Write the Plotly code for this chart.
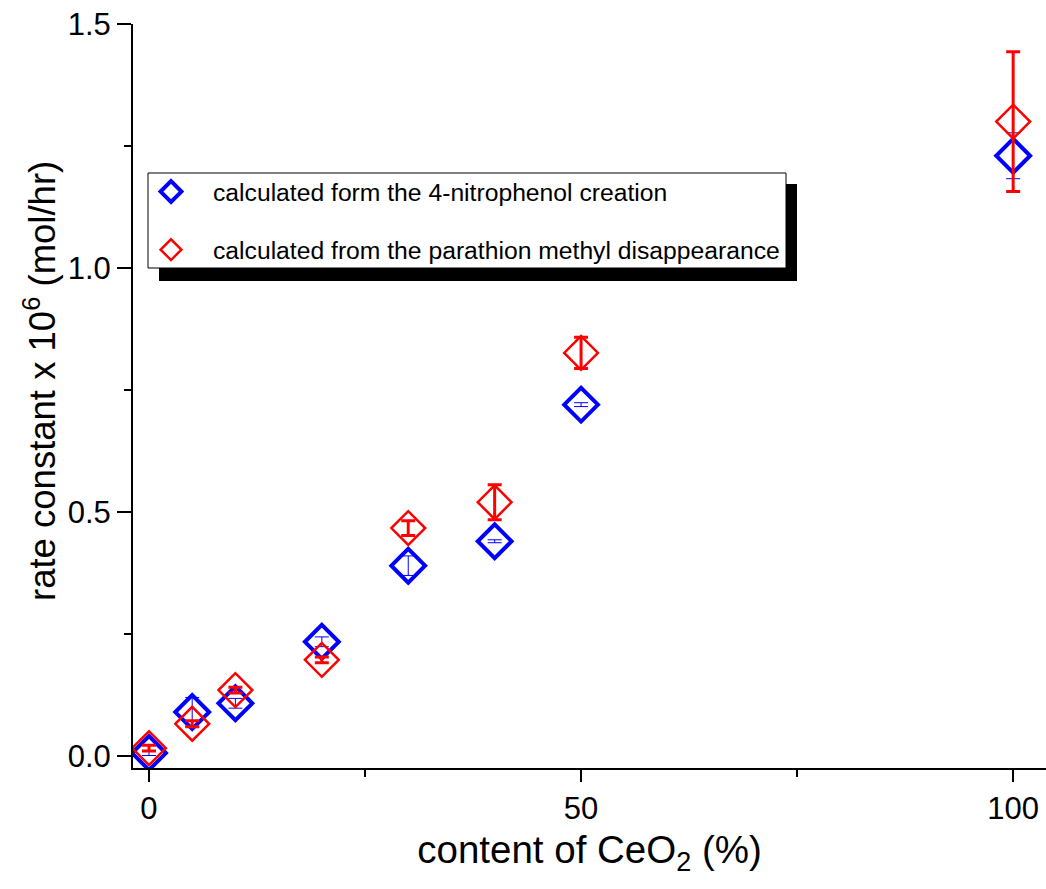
import plotly.graph_objects as go

x_content = [0, 5, 10, 20, 30, 40, 50, 100]
blue_k = [0.006, 0.090, 0.108, 0.234, 0.390, 0.440, 0.720, 1.230]
blue_err = [0.005, 0.030, 0.010, 0.010, 0.020, 0.003, 0.004, 0.047]
red_k = [0.016, 0.066, 0.135, 0.197, 0.467, 0.520, 0.826, 1.300]
red_err = [0.006, 0.006, 0.006, 0.006, 0.015, 0.036, 0.032, 0.143]

name_blue = "calculated form the 4-nitrophenol creation"
name_red = "calculated from the parathion methyl disappearance"
x_title = "content of CeO<sub>2</sub> (%)"
y_title = "rate constant x 10<sup>6</sup> (mol/hr)"

FONT = "Arial, 'Liberation Sans', sans-serif"

fig = go.Figure()
fig.add_trace(go.Scatter(
    x=x_content, y=blue_k, mode="markers", name=name_blue, legendgroup="b",
    marker=dict(symbol="diamond-open", size=26, color="#0000FF", line=dict(width=4, color="#0000FF")),
    error_y=dict(type="data", array=blue_err, visible=True, color="#0000FF", thickness=1, width=7),
))
fig.add_trace(go.Scatter(
    x=x_content, y=red_k, mode="markers", name=name_red, legendgroup="r",
    marker=dict(symbol="diamond-open", size=26, color="#FF0000", line=dict(width=2.5, color="#FF0000")),
    error_y=dict(type="data", array=red_err, visible=True, color="#FF0000", thickness=3, width=7),
))

W, H = 1046, 889
L, R, T, B = 133, 0, 24, 121
pw, ph = W - L - R, H - T - B

def px(xp):
    return (xp - L) / pw

def py(yp):
    return 1 - (yp - T) / ph

# legend box + shadow
fig.add_shape(type="rect", xref="paper", yref="paper",
              x0=px(159), x1=px(797), y0=py(281), y1=py(184),
              fillcolor="black", line=dict(width=0), layer="above")
fig.add_shape(type="rect", xref="paper", yref="paper",
              x0=px(148), x1=px(786), y0=py(268), y1=py(173),
              fillcolor="white", line=dict(width=1, color="black"), layer="above")

# y-axis title (placed as rotated annotation to match reference position)
fig.add_annotation(text=y_title, xref="paper", yref="paper", x=px(40), y=py(381),
                   xanchor="center", yanchor="middle", textangle=-90, showarrow=False,
                   font=dict(family=FONT, size=36.5, color="black"))

fig.update_layout(
    width=W, height=H,
    margin=dict(l=L, r=R, t=T, b=B, pad=0),
    paper_bgcolor="white", plot_bgcolor="white",
    font=dict(family=FONT, color="black"),
    showlegend=True,
    legend=dict(
        x=px(129), y=py(169), xanchor="left", yanchor="top",
        bgcolor="rgba(0,0,0,0)", borderwidth=0,
        font=dict(family=FONT, size=24.7, color="black"),
        traceorder="grouped", tracegroupgap=23, itemwidth=74,
    ),
    xaxis=dict(
        range=[-1.85, 103.8], tickvals=[0, 50, 100], ticktext=["0", "50", "100"],
        ticks="outside", ticklen=12, tickwidth=2, tickcolor="black",
        minor=dict(tickvals=[25, 75], ticks="outside", ticklen=7, tickwidth=2, tickcolor="black"),
        showline=True, linewidth=2, linecolor="black", mirror=False,
        showgrid=False, zeroline=False,
        tickfont=dict(family=FONT, size=31, color="black"),
        title=dict(text=x_title, font=dict(family=FONT, size=38.5, color="black"), standoff=11),
    ),
    yaxis=dict(
        range=[-0.0246, 1.5], tickvals=[0, 0.5, 1.0, 1.5], ticktext=["0.0", "0.5", "1.0", "1.5"],
        ticks="outside", ticklen=14, tickwidth=2, tickcolor="black",
        minor=dict(tickvals=[0.25, 0.75, 1.25], ticks="outside", ticklen=7, tickwidth=2, tickcolor="black"),
        showline=True, linewidth=2, linecolor="black", mirror=False,
        showgrid=False, zeroline=False,
        tickfont=dict(family=FONT, size=31, color="black"),
    ),
)

fig.write_html("out.html")
